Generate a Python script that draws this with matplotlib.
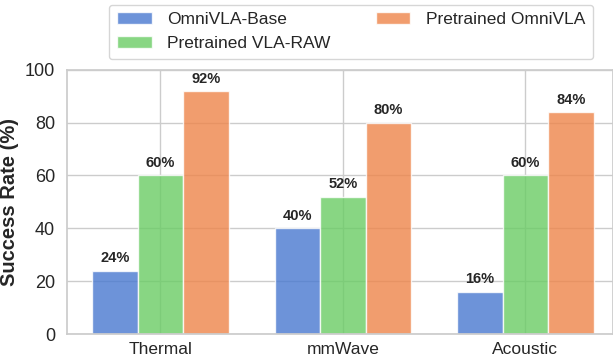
import numpy as np
import matplotlib.pyplot as plt
import seaborn as sns

sns.set_theme(style="whitegrid")
plt.rcParams['font.family'] = ['Arial', 'Liberation Sans', 'DejaVu Sans']

categories = ['Thermal', 'mmWave', 'Acoustic']
series = ['OmniVLA-Base', 'Pretrained VLA-RAW', 'Pretrained OmniVLA']
base = [24, 40, 16]
vla_raw = [60, 52, 60]
omnivla = [92, 80, 84]
colors = ['#4878d0', '#6acc64', '#ee854a']

fig, ax = plt.subplots(figsize=(6.13, 3.58), dpi=100)
x = np.arange(len(categories))
w = 0.25

for i, (vals, lab) in enumerate(zip([base, vla_raw, omnivla], series)):
    bars = ax.bar(x + (i - 1) * w, vals, w, label=lab, color=colors[i],
                  alpha=0.8, edgecolor='white', linewidth=1)
    for b, v in zip(bars, vals):
        ax.text(b.get_x() + b.get_width() / 2, v + 2, "%d%%" % v,
                ha='center', va='bottom', fontsize=10.5, fontweight='bold',
                color='#262626')

ax.set_xticks(x)
ax.set_xticklabels(categories, fontsize=12.5)
ax.tick_params(axis='y', labelsize=13, pad=3)
ax.tick_params(axis='x', pad=0)
ax.set_ylim(0, 100)
ax.set_xlim(-0.51, 2.48)
ax.set_ylabel("Success Rate (%)", fontsize=14.5, fontweight='bold')

ax.legend(loc='upper center', bbox_to_anchor=(0.52, 1.28), ncol=2,
          fontsize=12.5, frameon=True, columnspacing=2.6, handlelength=2.0,
          handletextpad=0.9, borderpad=0.45, labelspacing=0.5,
          borderaxespad=0.5)

fig.subplots_adjust(left=0.11, right=1.0, bottom=0.067, top=0.805)
plt.savefig("out.png", dpi=100)
